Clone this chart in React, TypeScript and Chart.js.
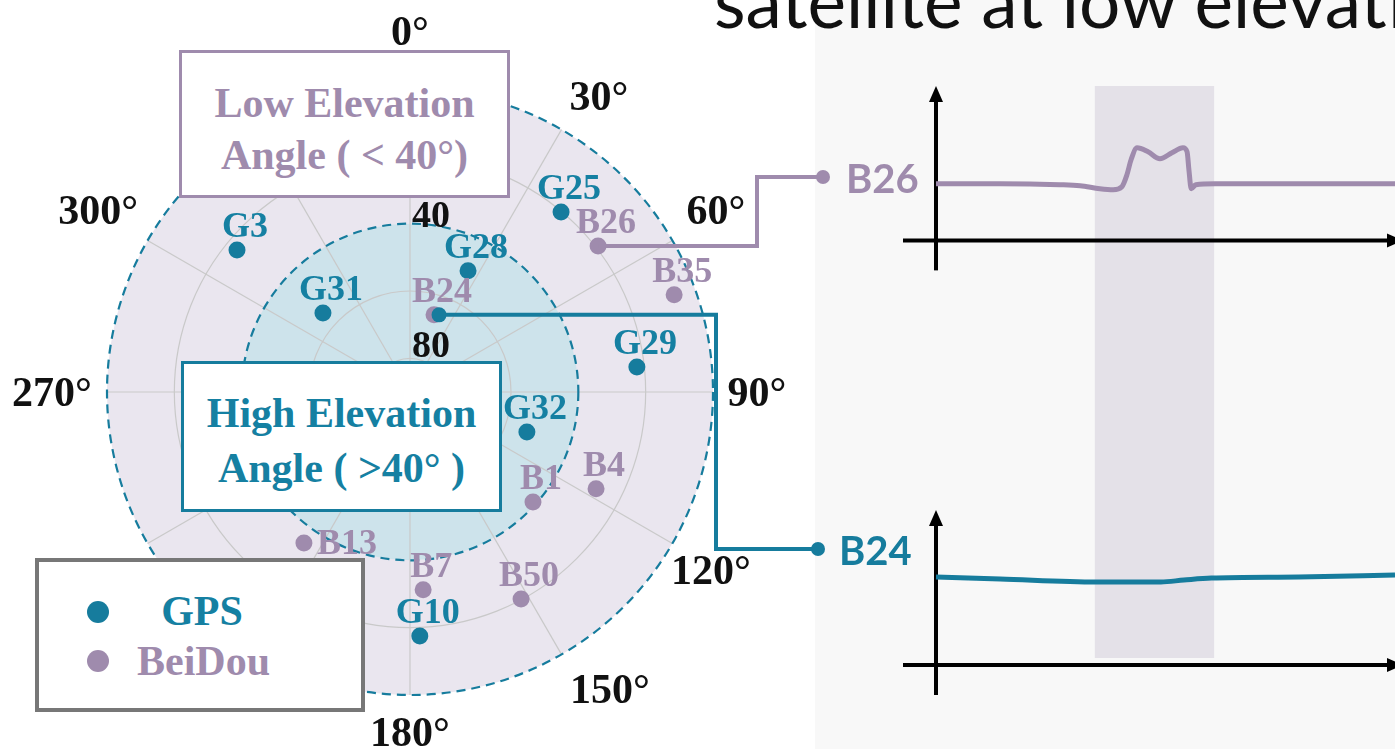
import React, { useEffect, useRef } from "react";
import { Chart, registerables } from "chart.js";

Chart.register(...registerables);

// ---------------- Skyplot data (azimuth °, elevation °) ----------------
const gpsNames = ["G3", "G31", "G28", "G25", "G29", "G32", "G10"];
const gpsAzimuth = [309.4, 312.2, 25.6, 40.0, 83.7, 108.9, 177.7];
const gpsElevation = [23.5, 55.1, 50.1, 20.2, 22.2, 53.3, 17.5];

const bdsNames = ["B24", "B26", "B35", "B1", "B4", "B13", "B7", "B50"];
const bdsAzimuth = [17.3, 52.2, 69.8, 131.8, 117.5, 215.1, 176.2, 151.8];
const bdsElevation = [66.0, 19.3, 6.4, 41.0, 27.7, 35.2, 31.1, 20.2];
const bdsLabelSide = ["top", "top", "top", "top", "top", "right", "top", "top"];

const azimuthGrid = [0, 30, 60, 90, 120, 150, 180, 210, 240, 270, 300, 330];
const azimuthTickLabels = [0, 30, 60, 90, 120, 150, 180, 270, 300];
const gridElevations = [20, 60, 80];
const boundaryElevations = [0, 40];
const elevationTickLabels = [40, 80];
const highElevationLimit = 40;

// ---------------- Signal time series ----------------
const b26Time = [0, 13.9, 27.0, 31.4, 35.7, 38.6, 40.5, 41.6, 42.5, 43.8, 46.2, 48.8, 51.4, 53.8, 54.7, 55.1, 55.6, 56.6, 60.8, 79.3, 100];
const b26Signal = [11.4, 11.4, 11.2, 11.0, 10.4, 10.2, 10.8, 13.2, 16.2, 18.6, 17.8, 16.4, 17.6, 18.6, 17.8, 14.2, 10.4, 11.2, 11.4, 11.4, 11.4];
const b24Time = [0, 14, 35, 49, 54, 60, 79, 100];
const b24Signal = [17.6, 17.2, 16.6, 16.6, 17.0, 17.4, 17.6, 18.0];
const anomalyWindow = [34.6, 60.6];
const axisSpan = [-6, 31];

// ---------------- Styles ----------------
const TEAL = "#167c9d";
const TEAL_TEXT = "#1580a2";
const PURPLE = "#9f8bad";
const LAVENDER = "#eae6ef";
const LIGHTBLUE = "#cde3eb";
const GRID = "#c9c9c9";
const BAND = "#e4e1e8";
const SERIF = "'Liberation Serif', 'Times New Roman', serif";

const W = 1395;
const H = 749;

// label nudges (pixels) for azimuth tick text
const AZ_LABEL_NUDGE: Record<number, [number, number]> = {
  0: [0, -8],
  30: [13, 10],
  60: [1, -5],
  90: [-5, 1],
  120: [-4, 3],
  150: [24, -7],
  180: [0, -11],
  270: [-6, 1],
  300: [-7, -5],
};

// annotation layout (canvas pixels)
const CONNECTORS = [
  { name: "B26", elbowX: 757, targetY: 177, endX: 823, labelX: 846, color: PURPLE },
  { name: "B24", elbowX: 716, targetY: 549, endX: 818, labelX: 839, color: TEAL },
];

const skyPlugin = {
  id: "sky",
  beforeDatasetsDraw(chart: any) {
    const { ctx } = chart;
    const xs = chart.scales.x;
    const ys = chart.scales.y;
    const cx = xs.getPixelForValue(0);
    const cy = ys.getPixelForValue(0);
    const R = xs.getPixelForValue(90) - cx;
    const rr = (el: number) => ((90 - el) / 90) * R;
    const circle = (r: number) => {
      ctx.beginPath();
      ctx.arc(cx, cy, r, 0, Math.PI * 2);
    };
    ctx.save();
    ctx.fillStyle = LAVENDER;
    circle(R);
    ctx.fill();
    ctx.fillStyle = LIGHTBLUE;
    circle(rr(highElevationLimit));
    ctx.fill();

    ctx.strokeStyle = GRID;
    ctx.lineWidth = 1.2;
    gridElevations.forEach((el) => {
      circle(rr(el));
      ctx.stroke();
    });
    azimuthGrid.forEach((az) => {
      const a = (az * Math.PI) / 180;
      ctx.beginPath();
      ctx.moveTo(cx, cy);
      ctx.lineTo(cx + R * Math.sin(a), cy - R * Math.cos(a));
      ctx.stroke();
    });

    ctx.setLineDash([9, 6]);
    ctx.strokeStyle = TEAL;
    ctx.lineWidth = 2.2;
    boundaryElevations.forEach((el) => {
      circle(rr(el));
      ctx.stroke();
    });
    ctx.setLineDash([]);

    // azimuth labels
    ctx.fillStyle = "#111";
    ctx.font = `bold 42px ${SERIF}`;
    ctx.textAlign = "center";
    ctx.textBaseline = "middle";
    azimuthTickLabels.forEach((az) => {
      const a = (az * Math.PI) / 180;
      const r = R + 49;
      const [nx, ny] = AZ_LABEL_NUDGE[az] || [0, 0];
      ctx.fillText(`${az}°`, cx + r * Math.sin(a) + nx, cy - r * Math.cos(a) + 2 + ny);
    });

    // elevation labels
    ctx.font = `bold 38px ${SERIF}`;
    ctx.textAlign = "left";
    ctx.textBaseline = "alphabetic";
    elevationTickLabels.forEach((el) => {
      ctx.fillText(`${el}`, cx + 2, cy - rr(el) + (el > 60 ? -1 : 3));
    });
    ctx.restore();
  },
  afterDatasetsDraw(chart: any) {
    const { ctx } = chart;
    ctx.save();
    ctx.font = `bold 36px ${SERIF}`;
    const drawLabels = (dsIndex: number, names: string[], color: string, sides?: string[]) => {
      const meta = chart.getDatasetMeta(dsIndex);
      ctx.fillStyle = color;
      meta.data.forEach((pt: any, i: number) => {
        const side = sides ? sides[i] : "top";
        if (side === "right") {
          ctx.textAlign = "left";
          ctx.textBaseline = "middle";
          ctx.fillText(names[i], pt.x + 13, pt.y + 2);
        } else {
          ctx.textAlign = "center";
          ctx.textBaseline = "alphabetic";
          ctx.fillText(names[i], pt.x + 8, pt.y - 13);
        }
      });
    };
    drawLabels(0, gpsNames, TEAL_TEXT);
    drawLabels(1, bdsNames, PURPLE, bdsLabelSide);

    // connectors to the signal panels
    const bMeta = chart.getDatasetMeta(1);
    CONNECTORS.forEach((c) => {
      const idx = bdsNames.indexOf(c.name);
      const p = bMeta.data[idx];
      ctx.strokeStyle = c.color;
      ctx.fillStyle = c.color;
      ctx.lineWidth = 4;
      ctx.lineJoin = "miter";
      ctx.beginPath();
      ctx.moveTo(p.x, p.y);
      ctx.lineTo(c.elbowX, p.y);
      ctx.lineTo(c.elbowX, c.targetY);
      ctx.lineTo(c.endX, c.targetY);
      ctx.stroke();
      if (c.color === TEAL) {
        ctx.beginPath();
        ctx.arc(p.x + 5, p.y, 7.5, 0, Math.PI * 2);
        ctx.fill();
      }
      ctx.beginPath();
      ctx.arc(c.endX, c.targetY, 7, 0, Math.PI * 2);
      ctx.fill();
      ctx.font = "bold 40px Lato, 'Open Sans', sans-serif";
      ctx.textAlign = "left";
      ctx.textBaseline = "middle";
      ctx.fillText(c.name, c.labelX, c.targetY + 3);
    });
    ctx.restore();
  },
};

function toXY(az: number, el: number) {
  const a = (az * Math.PI) / 180;
  return { x: (90 - el) * Math.sin(a), y: (90 - el) * Math.cos(a) };
}

function SkyPlot() {
  const ref = useRef<HTMLCanvasElement>(null);
  useEffect(() => {
    const cw = 940;
    const chart = new Chart(ref.current as HTMLCanvasElement, {
      type: "scatter",
      data: {
        datasets: [
          {
            label: "GPS",
            data: gpsAzimuth.map((az, i) => toXY(az, gpsElevation[i])),
            pointBackgroundColor: TEAL,
            pointBorderWidth: 0,
            pointRadius: 8.5,
          },
          {
            label: "BeiDou",
            data: bdsAzimuth.map((az, i) => toXY(az, bdsElevation[i])),
            pointBackgroundColor: PURPLE,
            pointBorderWidth: 0,
            pointRadius: 8.5,
          },
        ],
      },
      options: {
        animation: false,
        responsive: false,
        events: [],
        layout: { padding: { left: 107, right: cw - 713, top: 89, bottom: H - 695 } },
        scales: {
          x: { type: "linear", min: -90, max: 90, display: false },
          y: { type: "linear", min: -90, max: 90, display: false },
        },
        plugins: { legend: { display: false }, tooltip: { enabled: false } },
      },
      plugins: [skyPlugin],
    } as any);
    return () => chart.destroy();
  }, []);
  return (
    <canvas
      ref={ref}
      width={940}
      height={H}
      style={{ position: "absolute", left: 0, top: 0, width: 940, height: H }}
    />
  );
}

const panelPlugin = {
  id: "panel",
  beforeDatasetsDraw(chart: any) {
    const { ctx, chartArea } = chart;
    const xs = chart.scales.x;
    const yt = chart.scales.yTop;
    const yb = chart.scales.yBottom;
    ctx.save();
    const x0 = xs.getPixelForValue(anomalyWindow[0]);
    const x1 = xs.getPixelForValue(anomalyWindow[1]);
    const top = yt.getPixelForValue(axisSpan[1]);
    const bottom = yb.getPixelForValue(1.4);
    ctx.fillStyle = BAND;
    ctx.fillRect(x0, top, x1 - x0, bottom - top);

    ctx.strokeStyle = "#000";
    ctx.fillStyle = "#000";
    ctx.lineWidth = 4;
    const ox = xs.getPixelForValue(0);
    [yt, yb].forEach((ys: any) => {
      const y0 = ys.getPixelForValue(0);
      ctx.beginPath();
      ctx.moveTo(ox - 33, y0);
      ctx.lineTo(chartArea.right - 6, y0);
      ctx.stroke();
      ctx.beginPath();
      ctx.moveTo(chartArea.right + 8, y0);
      ctx.lineTo(chartArea.right - 8, y0 - 7);
      ctx.lineTo(chartArea.right - 8, y0 + 7);
      ctx.closePath();
      ctx.fill();

      const yTip = ys.getPixelForValue(axisSpan[1]);
      const yLow = ys.getPixelForValue(axisSpan[0]);
      ctx.beginPath();
      ctx.moveTo(ox, yLow);
      ctx.lineTo(ox, yTip + 10);
      ctx.stroke();
      ctx.beginPath();
      ctx.moveTo(ox, yTip);
      ctx.lineTo(ox - 7, yTip + 16);
      ctx.lineTo(ox + 7, yTip + 16);
      ctx.closePath();
      ctx.fill();
    });
    ctx.restore();
  },
};

function SignalPanel() {
  const ref = useRef<HTMLCanvasElement>(null);
  useEffect(() => {
    const chart = new Chart(ref.current as HTMLCanvasElement, {
      type: "line",
      data: {
        datasets: [
          {
            label: "B26",
            data: b26Time.map((t, i) => ({ x: t, y: b26Signal[i] })),
            yAxisID: "yTop",
            borderColor: PURPLE,
            borderWidth: 5,
            pointRadius: 0,
            cubicInterpolationMode: "monotone",
            clip: false,
          },
          {
            label: "B24",
            data: b24Time.map((t, i) => ({ x: t, y: b24Signal[i] })),
            yAxisID: "yBottom",
            borderColor: TEAL,
            borderWidth: 5,
            pointRadius: 0,
            cubicInterpolationMode: "monotone",
            clip: false,
          },
        ],
      },
      options: {
        animation: false,
        responsive: false,
        events: [],
        layout: { padding: { left: 121, right: 0, top: 85, bottom: H - 695 } },
        scales: {
          x: { type: "linear", min: 0, max: 100, display: false },
          yTop: { type: "linear", min: -91.2, max: 31.2, display: false },
          yBottom: { type: "linear", min: -6, max: 116, display: false },
        },
        plugins: { legend: { display: false }, tooltip: { enabled: false } },
      },
      plugins: [panelPlugin],
    } as any);
    return () => chart.destroy();
  }, []);
  return (
    <canvas
      ref={ref}
      width={580}
      height={H}
      style={{ position: "absolute", left: 815, top: 0, width: 580, height: H }}
    />
  );
}

const boxText = (color: string): React.CSSProperties => ({
  position: "absolute",
  left: 0,
  width: "100%",
  textAlign: "center",
  fontFamily: SERIF,
  fontWeight: "bold",
  fontSize: 42,
  lineHeight: "42px",
  color,
  whiteSpace: "nowrap",
});

export default function App() {
  return (
    <div
      style={{
        position: "absolute",
        left: 0,
        top: 0,
        width: W,
        height: H,
        overflow: "hidden",
        background: "#ffffff",
      }}
    >
      <div style={{ position: "absolute", left: 815, top: 0, width: 580, height: H, background: "#f8f8f8" }} />
      <SignalPanel />
      <div
        style={{
          position: "absolute",
          left: 714,
          top: -36,
          fontFamily: "Lato, 'Open Sans', sans-serif",
          fontSize: 73,
          lineHeight: "73px",
          color: "#111",
          whiteSpace: "nowrap",
        }}
      >
        satellite at low elevation
      </div>
      <SkyPlot />

      {/* Low elevation box */}
      <div
        style={{
          position: "absolute",
          left: 179,
          top: 50,
          width: 331,
          height: 148,
          boxSizing: "border-box",
          border: `3px solid ${PURPLE}`,
          background: "#fff",
        }}
      >
        <div style={{ ...boxText(PURPLE), top: 29 }}>Low Elevation</div>
        <div style={{ ...boxText(PURPLE), top: 81 }}>Angle ( &lt; 40°)</div>
      </div>

      {/* High elevation box */}
      <div
        style={{
          position: "absolute",
          left: 181,
          top: 361,
          width: 321,
          height: 151,
          boxSizing: "border-box",
          border: `3px solid ${TEAL}`,
          background: "#fff",
        }}
      >
        <div style={{ ...boxText(TEAL_TEXT), top: 28 }}>High Elevation</div>
        <div style={{ ...boxText(TEAL_TEXT), top: 83 }}>Angle ( &gt;40° )</div>
      </div>

      {/* Legend */}
      <div
        style={{
          position: "absolute",
          left: 35,
          top: 558,
          width: 330,
          height: 154,
          boxSizing: "border-box",
          border: "4px solid #777777",
          background: "#fff",
        }}
      >
        <div style={{ position: "absolute", left: 48, top: 39, width: 22, height: 22, borderRadius: 11, background: TEAL }} />
        <div style={{ position: "absolute", left: 48, top: 88, width: 22, height: 22, borderRadius: 11, background: PURPLE }} />
        <div style={{ ...boxText(TEAL_TEXT), left: 98, width: 130, top: 28 }}>GPS</div>
        <div style={{ ...boxText(PURPLE), left: 98, width: 130, top: 78 }}>BeiDou</div>
      </div>
    </div>
  );
}
